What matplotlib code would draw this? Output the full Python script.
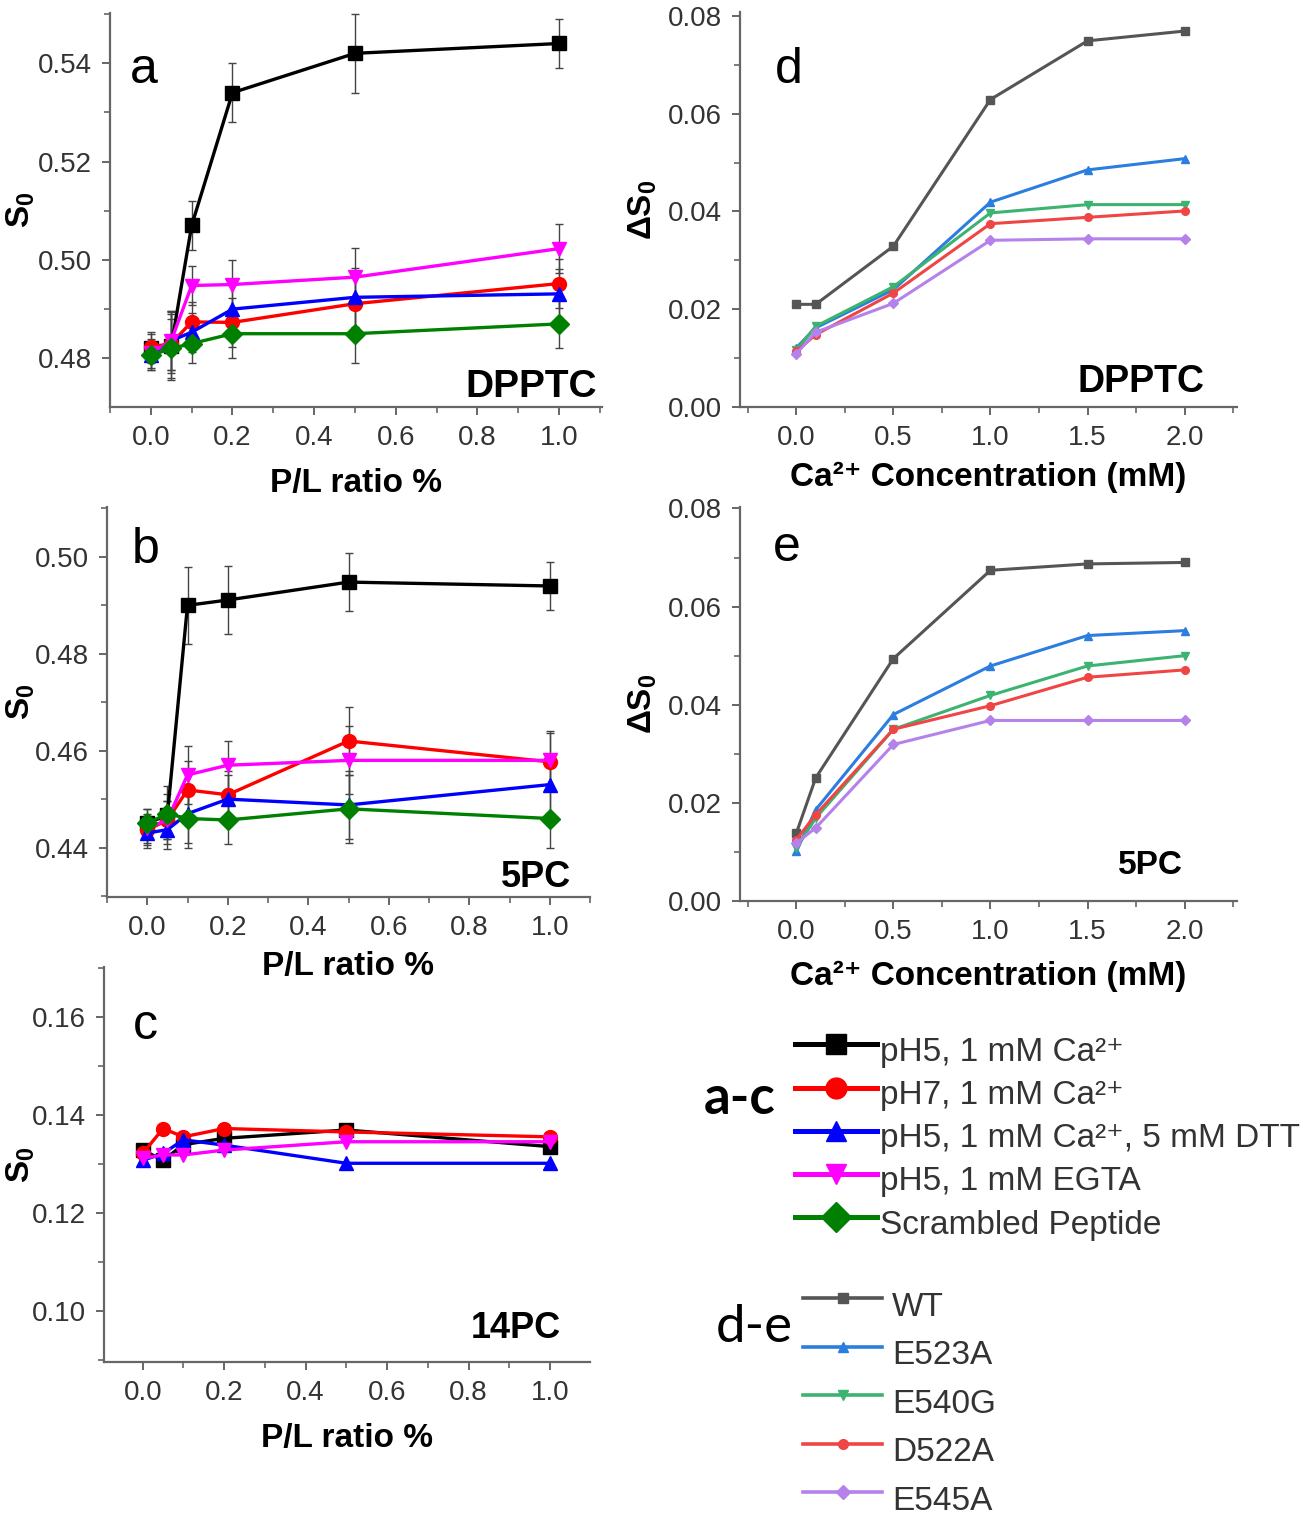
import matplotlib
matplotlib.use('Agg')
import matplotlib.pyplot as plt
from matplotlib.lines import Line2D
from matplotlib.ticker import MultipleLocator, FormatStrFormatter

plt.rcParams['font.family'] = ['Liberation Sans', 'DejaVu Sans']
plt.rcParams['mathtext.fontset'] = 'custom'
plt.rcParams['mathtext.rm'] = 'Liberation Sans'
plt.rcParams['mathtext.bf'] = 'Liberation Sans:bold'
plt.rcParams['mathtext.it'] = 'Liberation Sans:italic'

# ---- data: panels a-c (P/L ratio %) ----
pl_ratio = [0, 0.05, 0.1, 0.2, 0.5, 1.0]

a_ph5 = [0.482, 0.4825, 0.507, 0.534, 0.542, 0.544]
a_ph7 = [0.4823, 0.483, 0.4874, 0.4873, 0.4911, 0.4952]
a_dtt = [0.4806, 0.4836, 0.4853, 0.490, 0.4924, 0.4931]
a_egta = [0.481, 0.4836, 0.4948, 0.495, 0.4965, 0.5023]
a_scr = [0.4806, 0.482, 0.483, 0.485, 0.485, 0.487]
a_err_ph5 = [0.003, 0.007, 0.005, 0.006, 0.008, 0.005]
a_err = [0.003, 0.006, 0.004, 0.005, 0.006, 0.005]

b_ph5 = [0.445, 0.4467, 0.490, 0.4911, 0.4948, 0.494]
b_ph7 = [0.4436, 0.4457, 0.4519, 0.4509, 0.462, 0.4577]
b_dtt = [0.443, 0.4437, 0.447, 0.450, 0.4488, 0.453]
b_egta = [0.444, 0.4457, 0.455, 0.457, 0.458, 0.458]
b_scr = [0.445, 0.447, 0.446, 0.4457, 0.448, 0.446]
b_err_ph5 = [0.003, 0.006, 0.008, 0.007, 0.006, 0.005]
b_err = [0.003, 0.004, 0.006, 0.005, 0.007, 0.006]

c_ph5 = [0.1329, 0.1308, 0.134, 0.1353, 0.137, 0.1336]
c_ph7 = [0.1322, 0.1373, 0.1356, 0.1373, 0.1366, 0.1356]
c_dtt = [0.1308, 0.1322, 0.135, 0.1339, 0.1302, 0.1302]
c_egta = [0.1312, 0.1319, 0.1319, 0.1329, 0.1346, 0.1346]

cond_labels = ['pH5, 1 mM Ca²⁺', 'pH7, 1 mM Ca²⁺',
               'pH5, 1 mM Ca²⁺, 5 mM DTT', 'pH5, 1 mM EGTA', 'Scrambled Peptide']
cond_colors = ['black', '#ff0000', '#0000ff', '#ff00ff', '#008000']
cond_markers = ['s', 'o', '^', 'v', 'D']

# ---- data: panels d-e (Ca2+ concentration) ----
ca_conc = [0, 0.1, 0.5, 1.0, 1.5, 2.0]

d_wt = [0.021, 0.021, 0.0329, 0.0629, 0.0749, 0.0769]
d_e523a = [0.0121, 0.0162, 0.024, 0.0419, 0.0485, 0.0508]
d_e540g = [0.0117, 0.0165, 0.0246, 0.0397, 0.0414, 0.0414]
d_d522a = [0.0114, 0.0148, 0.0233, 0.0375, 0.0388, 0.0401]
d_e545a = [0.0109, 0.0153, 0.0212, 0.0341, 0.0344, 0.0344]

e_wt = [0.0138, 0.0251, 0.0494, 0.0674, 0.0687, 0.069]
e_e523a = [0.0101, 0.0186, 0.038, 0.0479, 0.0541, 0.0551]
e_e540g = [0.0108, 0.0169, 0.035, 0.0419, 0.0479, 0.050]
e_d522a = [0.0125, 0.0176, 0.035, 0.0398, 0.0456, 0.0471]
e_e545a = [0.0118, 0.0149, 0.0319, 0.0368, 0.0368, 0.0368]

mut_labels = ['WT', 'E523A', 'E540G', 'D522A', 'E545A']
mut_colors = ['#555555', '#2b7de0', '#3cb371', '#ef4545', '#b482ea']
mut_markers = ['s', '^', 'v', 'o', 'D']

W, H = 1303, 1517
fig = plt.figure(figsize=(W / 100, H / 100), dpi=100)


def px_axes(l, t, r, b):
    ax = fig.add_axes([l / W, 1 - b / H, (r - l) / W, (b - t) / H])
    ax.patch.set_visible(False)
    return ax


def style(ax, xmaj, xmin, ymaj, ymin, xfmt, yfmt):
    for s in ['top', 'right']:
        ax.spines[s].set_visible(False)
    for s in ['left', 'bottom']:
        ax.spines[s].set_color('#666666')
        ax.spines[s].set_linewidth(1.6)
    ax.xaxis.set_major_locator(MultipleLocator(xmaj))
    ax.xaxis.set_minor_locator(MultipleLocator(xmin))
    ax.yaxis.set_major_locator(MultipleLocator(ymaj))
    ax.yaxis.set_minor_locator(MultipleLocator(ymin))
    ax.xaxis.set_major_formatter(FormatStrFormatter(xfmt))
    ax.yaxis.set_major_formatter(FormatStrFormatter(yfmt))
    ax.tick_params(which='major', length=6, width=1.4, color='#666666',
                   labelsize=20, labelcolor='#333333', pad=7)
    ax.tick_params(which='minor', length=4, width=1.2, color='#666666')


# ---- panels a, b, c ----
ax_a = px_axes(110, 13, 602, 407)
ax_b = px_axes(107, 507, 590, 897)
ax_c = px_axes(104, 967, 590, 1362)

panel_ab = [
    (ax_a, [a_ph5, a_ph7, a_dtt, a_egta, a_scr], [a_err_ph5, a_err, a_err, a_err, a_err]),
    (ax_b, [b_ph5, b_ph7, b_dtt, b_egta, b_scr], [b_err_ph5, b_err, b_err, b_err, b_err]),
]
for ax, series, errs in panel_ab:
    for y, e in zip(series, errs):
        ax.errorbar(pl_ratio, y, yerr=e, fmt='none', ecolor='#444444',
                    elinewidth=1.0, capsize=3, capthick=1.0, zorder=2)
    for y, c, m in zip(series, cond_colors, cond_markers):
        ax.plot(pl_ratio, y, color=c, marker=m, lw=2.4, ms=10, zorder=3)

for y, c, m in zip([c_ph5, c_ph7, c_dtt, c_egta], cond_colors, cond_markers):
    ax_c.plot(pl_ratio, y, color=c, marker=m, lw=2.4, ms=10, zorder=3)

ax_a.set_xlim(-0.1, 1.105)
ax_a.set_ylim(0.4701, 0.5502)
ax_b.set_xlim(-0.1, 1.1)
ax_b.set_ylim(0.4298, 0.5103)
ax_c.set_xlim(-0.095, 1.098)
ax_c.set_ylim(0.0896, 0.1703)

for ax, left, width, lp in [(ax_a, 110, 492, 12), (ax_b, 107, 483, 7), (ax_c, 104, 486, 12)]:
    style(ax, 0.2, 0.1, 0.02, 0.01, '%.1f', '%.2f')
    ax.set_xlabel('P/L ratio %', fontsize=24, fontweight='bold', labelpad=lp)
    ax.set_ylabel('S$_\\mathbf{0}$', fontsize=24, fontweight='bold')
    ax.yaxis.set_label_coords(-(left - 37) / width, 0.5)

ax_a.text(0.04, 0.855, 'a', transform=ax_a.transAxes, fontsize=36, ha='left', va='center')
ax_b.text(0.052, 0.89, 'b', transform=ax_b.transAxes, fontsize=36, ha='left', va='center')
ax_c.text(0.06, 0.85, 'c', transform=ax_c.transAxes, fontsize=36, ha='left', va='center')
ax_a.text(0.99, 0.05, 'DPPTC', transform=ax_a.transAxes, fontsize=28, fontweight='bold',
          ha='right', va='center')
ax_b.text(0.96, 0.05, '5PC', transform=ax_b.transAxes, fontsize=26, fontweight='bold',
          ha='right', va='center')
ax_c.text(0.94, 0.086, '14PC', transform=ax_c.transAxes, fontsize=26, fontweight='bold',
          ha='right', va='center')

# ---- panels d, e ----
ax_d = px_axes(740, 12, 1237, 407)
ax_e = px_axes(740, 507, 1237, 901)

for ax, series, lp in [(ax_d, [d_wt, d_e523a, d_e540g, d_d522a, d_e545a], 8),
                       (ax_e, [e_wt, e_e523a, e_e540g, e_d522a, e_e545a], 11)]:
    for y, c, m in zip(series, mut_colors, mut_markers):
        ax.plot(ca_conc, y, color=c, marker=m, lw=2.2, ms=5.5, zorder=3)
    ax.set_xlim(-0.29, 2.27)
    style(ax, 0.5, 0.25, 0.02, 0.01, '%.1f', '%.2f')
    ax.set_xlabel('Ca²⁺ Concentration (mM)', fontsize=24, fontweight='bold', labelpad=lp)
    ax.set_ylabel('ΔS$_\\mathbf{0}$', fontsize=24, fontweight='bold')
    ax.yaxis.set_label_coords(-(740 - 659) / 497, 0.5)

ax_d.set_ylim(0, 0.0808)
ax_e.set_ylim(0, 0.0803)

ax_d.text(0.07, 0.853, 'd', transform=ax_d.transAxes, fontsize=36, ha='left', va='center')
ax_e.text(0.066, 0.896, 'e', transform=ax_e.transAxes, fontsize=36, ha='left', va='center')
ax_d.text(0.935, 0.063, 'DPPTC', transform=ax_d.transAxes, fontsize=27, fontweight='bold',
          ha='right', va='center')
ax_e.text(0.89, 0.089, '5PC', transform=ax_e.transAxes, fontsize=24, fontweight='bold',
          ha='right', va='center')

# ---- legends ----
cond_handles = [Line2D([], [], color=c, marker=m, lw=3.6, ms=15)
                for c, m in zip(cond_colors, cond_markers)]
leg1 = fig.legend(cond_handles, cond_labels, loc='upper left',
                  bbox_to_anchor=(795 / W, 1 - 1028 / H), frameon=False,
                  fontsize=24, handlelength=2.45, handleheight=1.62,
                  handletextpad=0.1, labelspacing=0.0, borderpad=0, borderaxespad=0)
for t in leg1.get_texts():
    t.set_color('#333333')

mut_handles = [Line2D([], [], color=c, marker=m, lw=2.6, ms=7)
               for c, m in zip(mut_colors, mut_markers)]
leg2 = fig.legend(mut_handles, mut_labels, loc='upper left',
                  bbox_to_anchor=(803 / W, 1 - 1281 / H), frameon=False,
                  fontsize=24, handlelength=2.37, handleheight=1.86,
                  handletextpad=0.3, labelspacing=0.0, borderpad=0, borderaxespad=0)
for t in leg2.get_texts():
    t.set_color('#333333')

fig.text(740 / W, 1 - 1098 / H, 'a-c', fontsize=38, fontweight='bold',
         family='Lato', ha='center', va='center')
fig.text(754 / W, 1 - 1328 / H, 'd-e', fontsize=38, family='Lato',
         ha='center', va='center')

fig.savefig('out.png', dpi=100)
